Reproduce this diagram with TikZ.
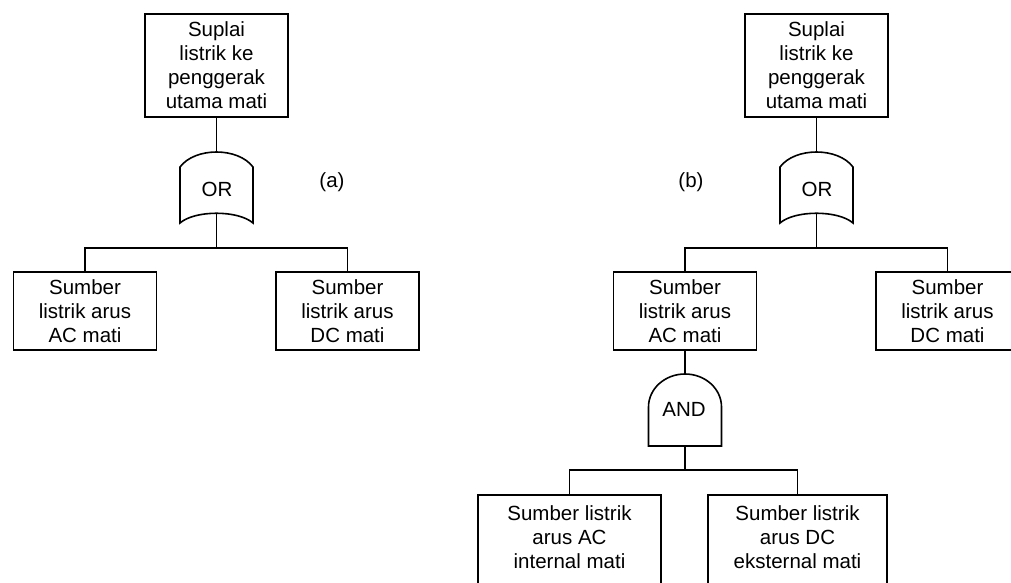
\documentclass[tikz,border=0pt]{standalone}
\usepackage{fontspec}
\setmainfont{Liberation Sans}
\begin{document}
\begin{tikzpicture}[x=1pt, y=-1pt, line width=1.6pt, line join=miter,
  txt/.style={font=\fontsize{20.5}{24}\selectfont, align=center, inner sep=0pt},
  box/.style={draw, txt},
  topbox/.style={box, minimum width=143, minimum height=103},
  midbox/.style={box, minimum width=143, minimum height=78},
  lowbox/.style={draw, inner sep=0pt, minimum height=130, anchor=north},
  % OR gate: origin at the centre of the gate
  orgate/.pic={
    \draw (-36.5,-23) .. controls (-21.5,-43) and (21.5,-43) .. (36.5,-23)
          -- (36.5,33) .. controls (21.5,20) and (-21.5,20) .. (-36.5,33) -- cycle;
    \coordinate (-in) at (0,-38);
    \coordinate (-out) at (0,23);
  },
  % AND gate: origin where the dome meets the straight sides
  andgate/.pic={
    \draw (-36.5,0) -- (-36.5,39) -- (36.5,39) -- (36.5,0)
          .. controls (36.5,-18.2) and (20.2,-33) .. (0,-33)
          .. controls (-20.2,-33) and (-36.5,-18.2) .. (-36.5,0) -- cycle;
    \coordinate (-in) at (0,-33);
    \coordinate (-out) at (0,39);
  }]
\path[use as bounding box] (0,0) rectangle (1011,583);
\clip (0,0) rectangle (1011,583);

% ---------------- tree (a) ----------------
\node[topbox] (topA) at (216.5,65.5) {Suplai\\listrik ke\\penggerak\\utama mati};
\pic (orA) at (216.5,190) {orgate};
\node[txt] (orAt) at (217,189) {OR};
\node[midbox] (acA) at (85,311) {Sumber\\listrik arus\\AC mati};
\node[midbox] (dcA) at (347.5,311) {Sumber\\listrik arus\\DC mati};
\coordinate (busA) at (216.5,248);
\node[txt] (labA) at (332,182) {(a)};

\draw (topA.south) -- (orA-in);
\draw (orA-out) -- (busA);
\draw (acA.north) |- (busA) -| (dcA.north);

% ---------------- tree (b) ----------------
\node[topbox] (topB) at (816.5,65.5) {Suplai\\listrik ke\\penggerak\\utama mati};
\pic (orB) at (816.5,190) {orgate};
\node[txt] (orBt) at (817,189) {OR};
\node[midbox] (acB) at (685,311) {Sumber\\listrik arus\\AC mati};
\node[midbox] (dcB) at (947.5,311) {Sumber\\listrik arus\\DC mati};
\coordinate (busB) at (816.5,248);
\node[txt] (labB) at (691,182) {(b)};

\draw (topB.south) -- (orB-in);
\draw (orB-out) -- (busB);
\draw (acB.north) |- (busB) -| (dcB.north);

\pic (andB) at (685,407) {andgate};
\node[txt] (andBt) at (684,409) {AND};
\coordinate (busC) at (685,470);

\node[lowbox, minimum width=183] (intB) at (569.5,494) {};
\node[txt] (intBt) at (569.5,537) {Sumber listrik\\arus AC\\internal mati};
\node[lowbox, minimum width=179] (extB) at (797.5,494) {};
\node[txt] (extBt) at (797.5,537) {Sumber listrik\\arus DC\\eksternal mati};

\draw (acB.south) -- (andB-in);
\draw (andB-out) -- (busC);
\draw (intB.north) |- (busC) -| (extB.north);
\end{tikzpicture}
\end{document}
